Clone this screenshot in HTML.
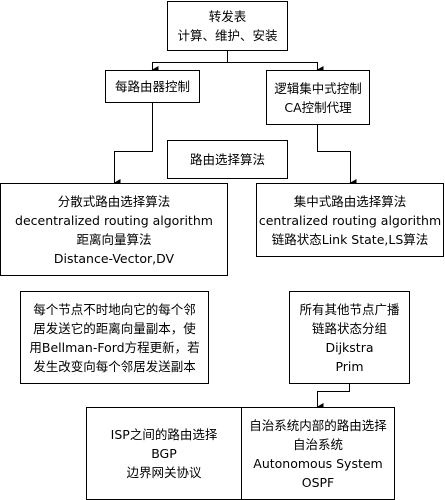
<!DOCTYPE html>
<html><head><meta charset="utf-8"><style>
html,body{margin:0;padding:0;background:#fff;}
body{width:445px;height:500px;position:relative;overflow:hidden;font-family:"DejaVu Sans","Noto Sans CJK SC",sans-serif;font-size:12.5px;color:#000;}
.b{position:absolute;box-sizing:border-box;border:1px solid #000;background:#fff;display:flex;flex-direction:column;justify-content:center;align-items:center;text-align:center;line-height:19px;white-space:nowrap;}
svg{position:absolute;left:0;top:0;}
</style></head><body>
<svg width="445" height="500">
<defs><marker id="a" markerWidth="8" markerHeight="8" refX="4" refY="7" orient="auto" markerUnits="userSpaceOnUse"><path d="M0,1 L8,1 L4,8 z" fill="#000"/></marker></defs>
<g stroke="#000" stroke-width="1" fill="none">
<path d="M227.5,50 V62.5 H152.5 V70" marker-end="url(#a)"/>
<path d="M227.5,62.5 H317.5 V70" marker-end="url(#a)"/>
<path d="M152.5,102 V151.5 H114.5 V183" marker-end="url(#a)"/>
<path d="M317.5,124 V151.5 H350.5 V183" marker-end="url(#a)"/>
<path d="M349.5,383 V391.5 H317.5 V407" marker-end="url(#a)"/>
</g></svg>
<div class="b" style="left:167px;top:1px;width:121px;height:50px;"><div>转发表</div><div>计算、维护、安装</div></div>
<div class="b" style="left:105px;top:70px;width:95px;height:33px;">每路由器控制</div>
<div class="b" style="left:266px;top:70px;width:104px;height:55px;"><div>逻辑集中式控制</div><div>CA控制代理</div></div>
<div class="b" style="left:167px;top:140px;width:121px;height:39px;">路由选择算法</div>
<div class="b" style="left:0px;top:183px;width:228px;height:93px;"><div>分散式路由选择算法</div><div>decentralized routing algorithm</div><div>距离向量算法</div><div>Distance-Vector,DV</div></div>
<div class="b" style="left:256px;top:183px;width:188px;height:74px;"><div>集中式路由选择算法</div><div>centralized routing algorithm</div><div>链路状态Link State,LS算法</div></div>
<div class="b" style="left:20px;top:291px;width:189px;height:93px;"><div>每个节点不时地向它的每个邻</div><div>居发送它的距离向量副本，使</div><div>用Bellman-Ford方程更新，若</div><div>发生改变向每个邻居发送副本</div></div>
<div class="b" style="left:289px;top:291px;width:121px;height:93px;"><div>所有其他节点广播</div><div>链路状态分组</div><div>Dijkstra</div><div>Prim</div></div>
<div class="b" style="left:86px;top:407px;width:156px;height:93px;"><div>ISP之间的路由选择</div><div>BGP</div><div>边界网关协议</div></div>
<div class="b" style="left:241px;top:407px;width:154px;height:93px;"><div>自治系统内部的路由选择</div><div>自治系统</div><div>Autonomous System</div><div>OSPF</div></div>
</body></html>
